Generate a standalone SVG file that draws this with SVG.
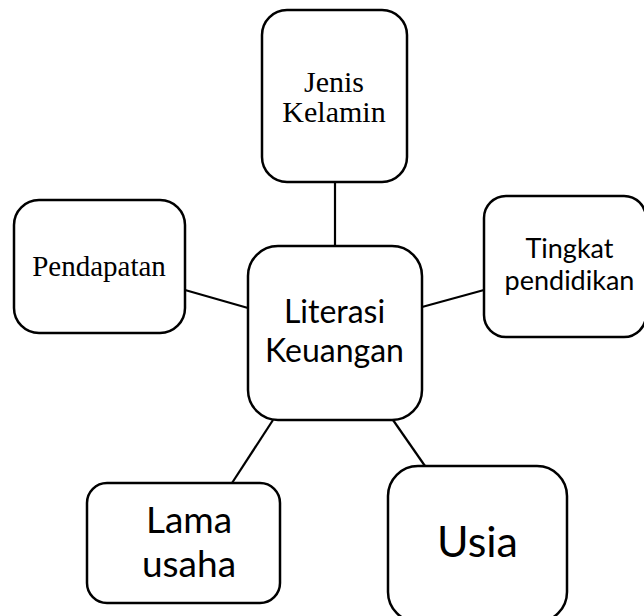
<svg xmlns="http://www.w3.org/2000/svg" width="644" height="616" viewBox="0 0 644 616">
<style>
.box{fill:#fff;stroke:#000;stroke-width:2.5}
.ln{stroke:#000;stroke-width:2.2;fill:none}
.serif{font-family:"Liberation Serif","Times New Roman",serif;fill:#000;text-anchor:middle}
.sans{font-family:Lato,"Open Sans",sans-serif;fill:#000;text-anchor:middle}
</style>
<rect width="644" height="616" fill="#fff"/>
<g id="connectors">
<line class="ln" x1="335" y1="182" x2="335" y2="246"/>
<line class="ln" x1="185" y1="290" x2="248" y2="308"/>
<line class="ln" x1="422" y1="307" x2="484" y2="290"/>
<line class="ln" x1="273" y1="420" x2="232" y2="483"/>
<line class="ln" x1="393" y1="420" x2="425" y2="466"/>
</g>
<g id="jenis-kelamin">
<rect class="box" x="262" y="10" width="145" height="172" rx="25"/>
<text class="serif" font-size="30" x="334" y="92">Jenis</text>
<text class="serif" font-size="30" x="334" y="122">Kelamin</text>
</g>
<g id="pendapatan">
<rect class="box" x="14" y="200" width="171" height="133" rx="25"/>
<text class="serif" font-size="29" x="99" y="276">Pendapatan</text>
</g>
<g id="tingkat-pendidikan">
<rect class="box" x="484" y="196" width="162" height="141" rx="22"/>
<text class="sans" font-size="27" x="569.5" y="258">Tingkat</text>
<text class="sans" font-size="27" x="569.5" y="290">pendidikan</text>
</g>
<g id="literasi-keuangan">
<rect class="box" x="248" y="246" width="174" height="174" rx="30"/>
<text class="sans" font-size="32" x="334.5" y="323">Literasi</text>
<text class="sans" font-size="32" x="334.5" y="362">Keuangan</text>
</g>
<g id="lama-usaha">
<rect class="box" x="87" y="483" width="193" height="120" rx="20"/>
<text class="sans" font-size="37" x="189" y="533">Lama</text>
<text class="sans" font-size="37" x="189" y="577">usaha</text>
</g>
<g id="usia">
<rect class="box" x="388" y="466" width="179" height="156" rx="30"/>
<text class="sans" font-size="43" x="477.5" y="557">Usia</text>
</g>
</svg>
